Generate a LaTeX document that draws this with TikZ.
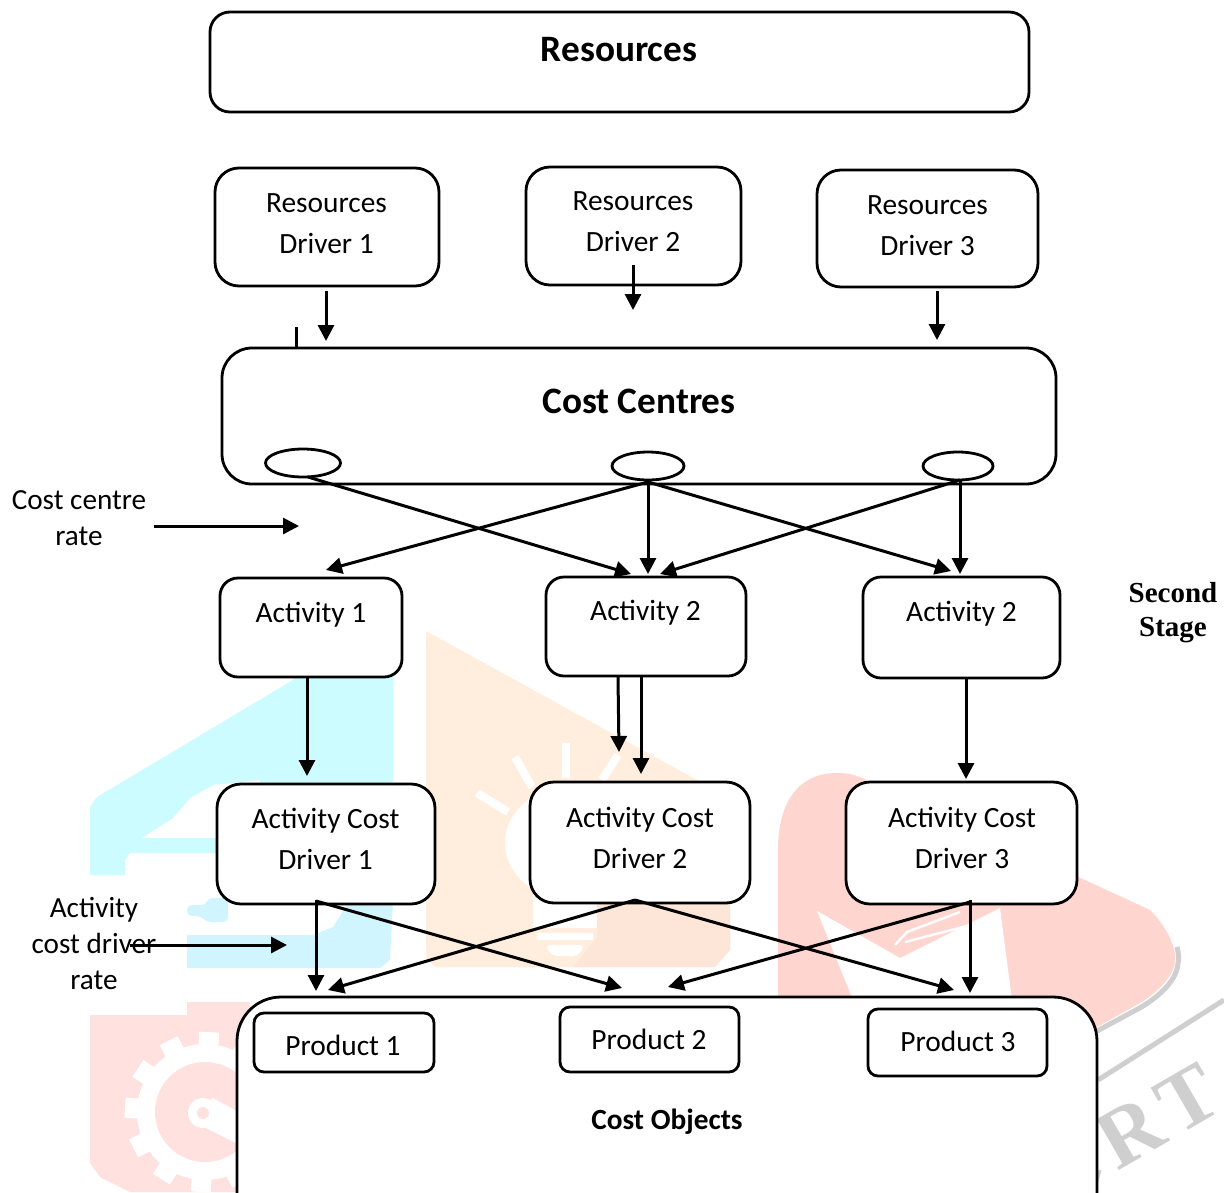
\documentclass[tikz,border=0pt]{standalone}
\usepackage{fontspec}
\setmainfont{Carlito}
\newfontfamily\serifb{Liberation Serif}[Scale=1]
\usetikzlibrary{arrows.meta,shapes.geometric}
\definecolor{wcyan}{HTML}{CCFCFF}
\definecolor{wcyanb}{HTML}{D0F5FF}
\definecolor{wor}{HTML}{FFEEDD}
\definecolor{wpk}{HTML}{FDE5D8}
\definecolor{wred}{HTML}{FFD5D0}
\definecolor{wredb}{HTML}{FFE1E0}
\definecolor{wgrey}{HTML}{CFCFCF}
\tikzset{
  rbox/.style={draw=black,fill=white,line width=2.8pt,rounded corners=#1,inner sep=0pt,outer sep=0pt},
  body/.style={inner sep=0pt,align=center,font=\fontsize{29.4}{41}\selectfont},
  sidetxt/.style={inner sep=0pt,align=center,font=\fontsize{29.2}{36}\selectfont},
  headtxt/.style={inner sep=0pt,font=\fontsize{37.3}{44}\selectfont\bfseries},
  arr/.style={line width=3pt,-{Triangle[length=16pt,width=16pt]}},
  plain/.style={line width=3pt},
  oval/.style={draw=black,fill=white,ellipse,line width=2.8pt,inner sep=0pt,outer sep=0pt},
}
% name, x1, y1, x2, y2, radius
\newcommand{\cbox}[6]{%
  \node[rbox=#6pt,minimum width={(#4-#2)*1pt},minimum height={(#5-#3)*1pt}] (#1) at ({(#2+#4)/2},{(#3+#5)/2}) {};}
\begin{document}
\begin{tikzpicture}[x=1pt,y=-1pt]
\useasboundingbox (0,0) rectangle (1224,1192);
\fill[white] (0,0) rectangle (1224,1192);
\begin{scope}
\clip (0,0) rectangle (1224,1192);
% watermark: cyan
\fill[wcyan] (90,807) -- (97,797) -- (293,680) -- (296,670) -- (393,670) -- (393,800) -- (260,800) -- (260,780) -- (213,785) -- (190,798) -- (173,818) -- (142,838) -- (230,838) -- (230,853) -- (130,853) -- (125,860) -- (125,875) -- (90,875) -- cycle;
\fill[wcyanb] (187,935) -- (313,935) -- (333,927) -- (350,900) -- (393,900) -- (390,960) -- (380,968) -- (187,968) -- cycle;
\fill[wcyanb,rounded corners=5pt] (187,905) -- (207,905) -- (207,898) -- (228,898) -- (228,922) -- (207,922) -- (200,916) -- (187,916) -- cycle;
% watermark: orange bulb
\fill[wor] (426,631) -- (697,780) -- (730,800) -- (730,950) -- (715,967) -- (435,967) -- (426,958) -- cycle;
\fill[wpk] (597,900) -- (730,900) -- (730,950) -- (715,967) -- (573,967) -- (597,937) -- cycle;
\fill[white] (575,843) ellipse [x radius=70,y radius=58];
\fill[white] (533,885) rectangle (597,928);
\fill[white] (537,933) rectangle (593,940);
\fill[white,rounded corners=5pt] (545,945) -- (585,945) -- (578,956) -- (552,956) -- cycle;
\draw[white,line width=8pt] (477,793) -- (508,812) (515,757) -- (532,787) (566,743) -- (566,778) (618,755) -- (602,780);
% watermark: red
\draw[wgrey,line width=5pt] (1177,947) .. controls (1179,955) and (1179,960) .. (1178,963) .. controls (1177,983) and (1153,1001) .. (1136,1010) -- (1097,1031);
\fill[wred] (778,1000) -- (778,850) .. controls (778,800) and (800,773) .. (837,773) .. controls (855,773) and (865,778) .. (880,790) -- (1085,880) -- (1150,910) .. controls (1165,925) and (1176,945) .. (1175,960) .. controls (1174,980) and (1150,998) .. (1133,1007) -- (1097,1027) -- (1097,1040) -- cycle;
\fill[white] (817,911) -- (900,958) -- (1000,908) -- (1012,1000) -- (853,1000) -- cycle;
\draw[white,line width=2.5pt] (895,945) -- (907,932) -- (960,912) (905,942) -- (990,920);
% watermark: gear
\fill[wredb] (90,1015) -- (187,1015) -- (187,1002) -- (250,1002) -- (250,1192) -- (130,1192) -- (100,1177) -- (90,1163) -- cycle;
\fill[white] (205,1112) circle [radius=68];
\foreach \a in {-3,27,...,327} {
  \fill[white,rotate around={\a:(205,1112)}] (195,1032) rectangle (215,1060);
}
\fill[wredb] (205,1112) circle [radius=50];
\fill[white] (190,1120) -- (240,1145) -- (240,1113) -- (213,1098) -- cycle;
\fill[white] (203,1113) circle [radius=15];
\fill[wredb] (203,1113) circle [radius=6];
% watermark: grey mark
\draw[wgrey,line width=5pt] (1098,1080) -- (1224,1000);
\draw[wgrey,line width=3pt] (1100,1170) -- (1094,1192);
\node[text=wgrey,rotate=30,inner sep=0pt,font=\fontsize{84}{84}\selectfont\serifb\bfseries] (wm) at (1158,1116) {R\kern8pt T};
\end{scope}
% boxes
\cbox{res}{210}{12}{1029}{112}{20}
\node[headtxt] (rest) at (619,50) {Resources};
\cbox{rd1}{215}{168}{439}{286}{24}
\node[body] (rd1t) at (326.5,224) {Resources\\Driver 1};
\cbox{rd2}{526}{167}{741}{285}{24}
\node[body] (rd2t) at (633,222) {Resources\\Driver 2};
\cbox{rd3}{817}{170}{1038}{287}{24}
\node[body] (rd3t) at (927.5,226) {Resources\\Driver 3};
\cbox{cc}{222}{348}{1056}{484}{30}
\node[headtxt] (cct) at (639,401) {Cost Centres};
\node[oval,minimum width=75pt,minimum height=28pt] (e1) at (303,463) {};
\node[oval,minimum width=72pt,minimum height=28pt] (e2) at (648,466) {};
\node[oval,minimum width=70pt,minimum height=28pt] (e3) at (958,466) {};
\cbox{a1}{220}{578}{402}{677}{18}
\node[body] (a1t) at (311,615) {Activity 1};
\cbox{a2}{546}{577}{746}{676}{18}
\node[body] (a2t) at (645.5,613) {Activity 2};
\cbox{a3}{863}{577}{1060}{678}{18}
\node[body] (a3t) at (961.5,614) {Activity 2};
\cbox{d1}{217}{784}{435}{904}{24}
\node[body] (d1t) at (325.5,839) {Activity Cost\\Driver 1};
\cbox{d2}{530}{782}{750}{903}{24}
\node[body] (d2t) at (640,838) {Activity Cost\\Driver 2};
\cbox{d3}{846}{782}{1077}{904}{24}
\node[body] (d3t) at (962,838) {Activity Cost\\Driver 3};
\cbox{co}{237}{997}{1097}{1240}{44}
\node[inner sep=0pt,font=\fontsize{29.3}{34}\selectfont\bfseries] (cot) at (667,1122) {Cost Objects};
\cbox{p1}{254}{1013}{434}{1072}{10}
\node[body] (p1t) at (343,1045) {Product 1};
\cbox{p2}{560}{1007}{739}{1072}{10}
\node[body] (p2t) at (649,1039) {Product 2};
\cbox{p3}{868}{1009}{1047}{1076}{10}
\node[body] (p3t) at (958,1041) {Product 3};
% side labels
\node[sidetxt] (rate1) at (79,518) {Cost centre\\rate};
\node[sidetxt] (rate2) at (94,943) {Activity\\cost driver\\rate};
\node[inner sep=0pt,align=center,font=\fontsize{29}{34}\selectfont\serifb\bfseries] (second) at (1173,613) {Second\\Stage};
\coordinate (r1end) at (299,526);
\coordinate (r2end) at (287,945);
% connectors
\draw[arr] ([xshift=-1pt,yshift=-5pt]rd1.south) -- ([xshift=-313pt,yshift=7pt]cc.north);
\draw[arr] ([xshift=-0.5pt,yshift=20pt]rd2.south) -- ([xshift=-6pt,yshift=38pt]cc.north);
\draw[arr] ([xshift=9.5pt,yshift=-4pt]rd3.south) -- ([xshift=298pt,yshift=8pt]cc.north);
\draw[plain] ([xshift=-343pt,yshift=21pt]cc.north) -- ([xshift=-343pt]cc.north);
\draw[arr] ([xshift=5pt]e1.south) -- ([xshift=-15pt,yshift=3pt]a2.north);
\draw[arr] ([yshift=-2pt]e2.south) -- ([xshift=15pt,yshift=8pt]a1.north);
\draw[arr] ([yshift=-2pt]e2.south) -- ([xshift=2pt,yshift=3pt]a2.north);
\draw[arr] ([yshift=-2pt]e2.south) -- ([xshift=-10.5pt,yshift=6pt]a3.north);
\draw[arr] ([xshift=2pt]e3.south) -- ([xshift=14pt,yshift=3pt]a2.north);
\draw[arr] ([xshift=2pt]e3.south) -- ([xshift=-1.5pt,yshift=3pt]a3.north);
\draw[arr] ([xshift=-4pt,yshift=-1pt]a1.south) -- ([xshift=-19pt,yshift=8pt]d1.north);
\draw[arr] ([xshift=-28pt,yshift=-1pt]a2.south) -- ([xshift=-21pt,yshift=30pt]d2.north);
\draw[arr] ([xshift=-5pt,yshift=1pt]a2.south) -- ([xshift=1pt,yshift=8pt]d2.north);
\draw[arr] ([xshift=4.5pt,yshift=-1pt]a3.south) -- ([xshift=4.5pt,yshift=3pt]d3.north);
\draw[arr] ([xshift=-10pt,yshift=4pt]d1.south) -- ([xshift=-28pt,yshift=22pt]p1.north);
\draw[arr] ([xshift=-10pt,yshift=3pt]d1.south) -- ([xshift=-27.5pt,yshift=19pt]p2.north);
\draw[arr] ([xshift=-5pt,yshift=3pt]d2.south) -- ([xshift=-16pt,yshift=23pt]p1.north);
\draw[arr] ([xshift=-5pt,yshift=3pt]d2.south) -- ([xshift=-3.5pt,yshift=19pt]p3.north);
\draw[arr] ([xshift=8.5pt,yshift=2pt]d3.south) -- ([xshift=18.5pt,yshift=20pt]p2.north);
\draw[arr] ([xshift=8.5pt,yshift=4pt]d3.south) -- ([xshift=12.5pt,yshift=16pt]p3.north);
\draw[arr] ([xshift=75pt,yshift=-8pt]rate1.center) -- (r1end);
\draw[arr] ([xshift=36pt,yshift=-2pt]rate2.center) -- (r2end);
\end{tikzpicture}
\end{document}
